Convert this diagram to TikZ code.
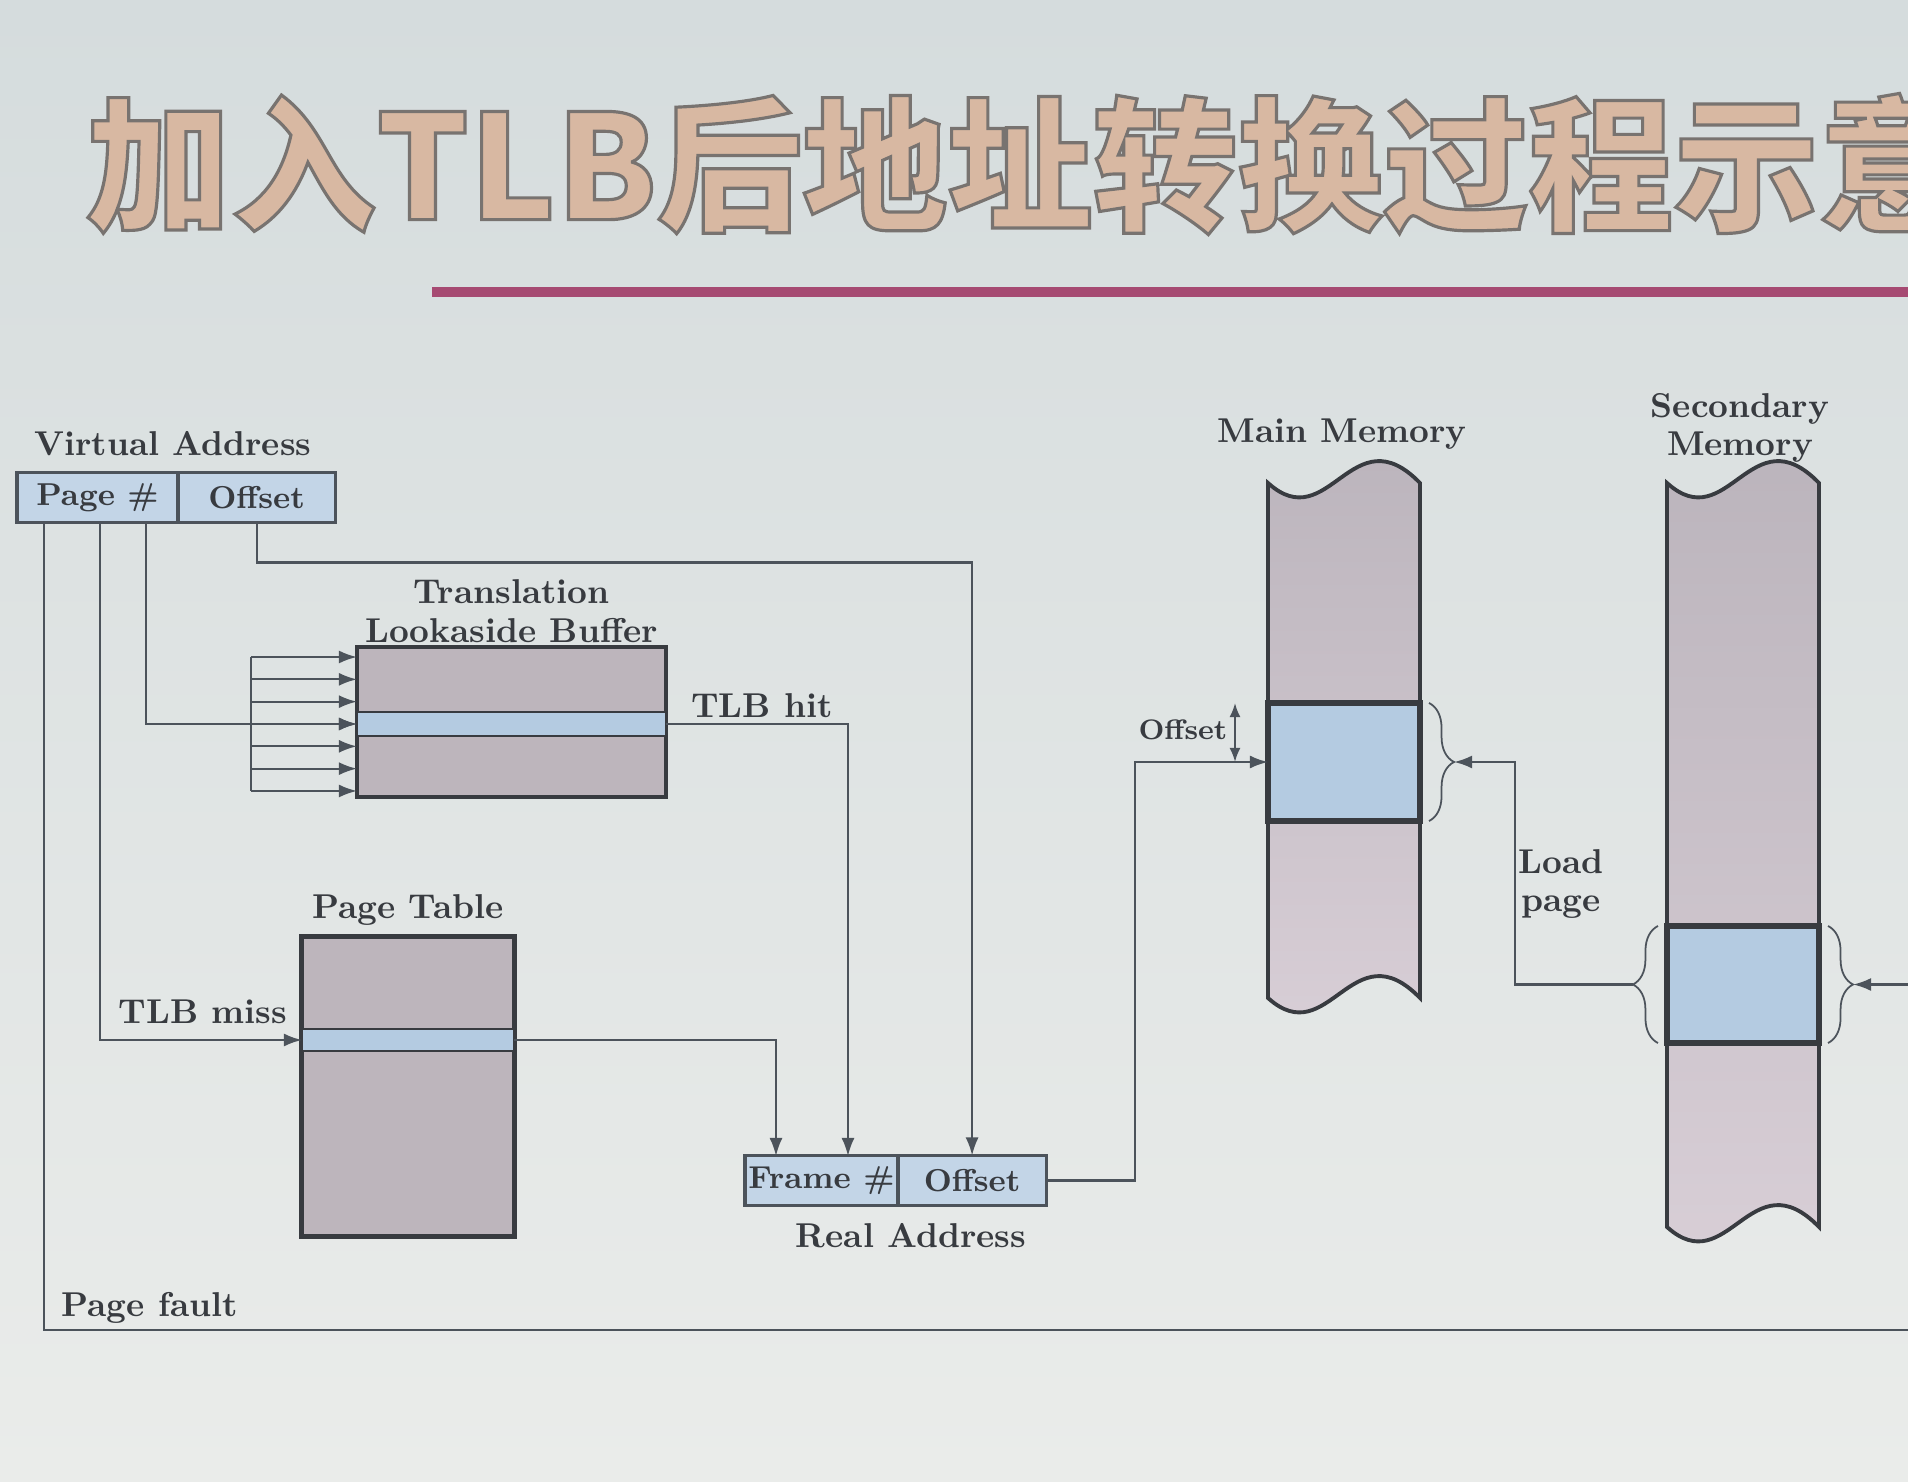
\documentclass[tikz,border=0pt]{standalone}
\usepackage{fontspec}
\newfontfamily\cjk{Noto Sans CJK SC}
\usetikzlibrary{positioning, arrows.meta, decorations.pathreplacing}
\definecolor{bgtop}{HTML}{D5DCDD}
\definecolor{bgbot}{HTML}{EAECEA}
\definecolor{titlefill}{HTML}{D8B8A2}
\definecolor{rulecol}{HTML}{A64A72}
\definecolor{ink}{HTML}{383B40}
\definecolor{wirecol}{HTML}{4C535B}
\definecolor{memtop}{HTML}{BAB3BB}
\definecolor{membot}{HTML}{D9CFD7}
\definecolor{tabfill}{HTML}{BDB5BC}
\definecolor{rowblue}{HTML}{B4CBE1}
\definecolor{addrblue}{HTML}{C3D5E7}
\tikzstyle{lbl} = [text=ink, font=\fontsize{9.8}{11}\selectfont\bfseries,
    align=center, inner sep=0pt]
\tikzstyle{addr} = [draw=wirecol, fill=addrblue, line width=0.9pt,
    minimum height=0.5cm, inner sep=0pt, outer sep=0pt, text=ink,
    font=\fontsize{9}{10}\selectfont\bfseries]
\tikzstyle{tabbox} = [draw=ink, fill=tabfill, line width=1pt,
    inner sep=0pt, outer sep=0pt]
\tikzstyle{rowbox} = [draw=ink, fill=rowblue, line width=0.8pt,
    inner sep=0pt, outer sep=0pt]
\tikzstyle{memblk} = [draw=ink, fill=rowblue, line width=1.5pt,
    inner sep=0pt, outer sep=0pt]
\tikzstyle{column} = [draw=ink, line width=1.1pt, top color=memtop,
    bottom color=membot]
\tikzstyle{wire} = [draw=wirecol, line width=0.6pt]
\tikzstyle{arr} = [wire, -{Latex[length=1.8mm, width=1.3mm]}]
\tikzstyle{curly} = [draw=wirecol, line width=0.5pt, decorate,
    decoration={brace, amplitude=2.5mm}]
\tikzstyle{titletext} = [anchor=west, inner sep=0pt, text=titlefill,
    font=\cjk\bfseries\fontsize{41.3}{42}\selectfont]
% outlined glyphs: fill and stroke
\newcommand{\outlined}[1]{\special{pdf:literal direct 2 Tr 0.9 w 0.47 0.45 0.44 RG}#1\special{pdf:literal direct 0 Tr}}

\begin{document}
\begin{tikzpicture}[x=0.01cm, y=-0.01cm]
    \useasboundingbox (0,0) rectangle (1908,1482);
    \clip (0,0) rectangle (1908,1482);
    \shade[top color=bgtop, bottom color=bgbot] (0,0) rectangle (1908,1482);

    % title
    \node[titletext] (title) at (85,164) {\outlined{加入TLB后地址转换过程示意}};
    \draw[rulecol, line width=2.8pt] (432,292) -- (1920,292);

    % virtual address
    \node[lbl] (valbl) at (173,444) {Virtual Address};
    \node[addr, minimum width=1.61cm] (pgnum) at (97.5,497.5) {Page \#};
    \node[addr, minimum width=1.57cm, right=0pt of pgnum] (vaoff) {Offset};

    % TLB
    \node[tabbox, minimum width=3.09cm, minimum height=1.5cm] (tlb) at (511.5,722) {};
    \node[rowbox, minimum width=3.09cm, minimum height=0.24cm] (tlbrow) at (511.5,724) {};
    \node[lbl, above=1pt of tlb] (tlblbl) {Translation\\Lookaside Buffer};

    % page table
    \node[tabbox, line width=1.4pt, minimum width=2.12cm, minimum height=2.99cm]
        (ptab) at (408,1086.5) {};
    \node[rowbox, minimum width=2.12cm, minimum height=0.22cm] (ptrow) at (408,1040) {};
    \node[lbl, above=3pt of ptab] (ptlbl) {Page Table};

    % real address
    \node[addr, minimum width=1.53cm] (frame) at (821.5,1180.5) {Frame \#};
    \node[addr, minimum width=1.48cm, right=0pt of frame] (raoff) {Offset};
    \node[lbl] (ralbl) at (911,1236) {Real Address};

    % main and secondary memory
    \shadedraw[column] (1268,483) .. controls (1329,538) and (1352,413) .. (1420,483)
        -- (1420,998) .. controls (1352,928) and (1329,1053) .. (1268,998) -- cycle;
    \shadedraw[column] (1667,483) .. controls (1728,538) and (1751,413) .. (1819,483)
        -- (1819,1227) .. controls (1751,1157) and (1728,1282) .. (1667,1227) -- cycle;
    \node[lbl] (mmlbl) at (1342,434) {Main Memory};
    \node[lbl] (smlbl) at (1740,428) {Secondary\\Memory};
    \node[memblk, minimum width=1.52cm, minimum height=1.18cm] (mmblk) at (1344,762) {};
    \node[memblk, minimum width=1.52cm, minimum height=1.17cm] (smblk) at (1743,984.5) {};
    \draw[curly] ([xshift=0.9mm]mmblk.north east) -- ([xshift=0.9mm]mmblk.south east);
    \draw[curly] ([xshift=-0.9mm]smblk.south west) -- ([xshift=-0.9mm]smblk.north west);
    \draw[curly] ([xshift=0.9mm]smblk.north east) -- ([xshift=0.9mm]smblk.south east);
    \coordinate (mmbr) at ([xshift=3.4mm]mmblk.east);
    \coordinate (smbl) at ([xshift=-3.4mm]smblk.west);
    \coordinate (smbr) at ([xshift=3.4mm]smblk.east);

    % page fault
    \coordinate (pfs) at (44,523);
    \coordinate (pfc) at (1960,1330);
    \draw[arr] (pfs) |- (pfc) |- (smbr);
    \node[lbl, anchor=west] (pflbl) at (61,1308) {Page fault};

    % TLB miss
    \coordinate (miss) at (100,523);
    \draw[arr] (miss) |- (ptrow.west);
    \node[lbl] (misslbl) at (203,1012) {TLB miss};

    % lookup in TLB
    \coordinate (look) at (146,523);
    \draw[arr] (look) |- (tlbrow.west);
    \foreach \i in {0,...,6} {
        \coordinate (comb\i) at (251,{657+\i*22.33});
        \draw[arr] (comb\i) -- (comb\i -| tlb.west);
    }
    \draw[wire] (comb0) -- (comb6);

    % offset
    \draw[arr] (vaoff.south) -- ++(0,40) -| (raoff.north);

    % TLB hit
    \coordinate (fin2) at (848,1156);
    \draw[arr] (tlbrow.east) -| (fin2);
    \node[lbl] (hitlbl) at (762,706) {TLB hit};

    % page table entry
    \coordinate (fin1) at (776,1156);
    \draw[arr] (ptrow.east) -| (fin1);

    % real address to main memory
    \draw[arr] (raoff.east) -- ++(89,0) |- (mmblk.west);
    \coordinate (ofa) at (1235,703);
    \coordinate (ofb) at (1235,762);
    \draw[wire, {Latex[length=1.4mm, width=1.1mm]}-{Latex[length=1.4mm, width=1.1mm]}]
        (ofa) -- (ofb);
    \node[lbl, font=\fontsize{8}{9}\selectfont\bfseries, anchor=east] (offlbl)
        at (1228,730) {Offset};

    % load page
    \draw[arr] (smbl) -- ++(-118,0) |- (mmbr);
    \node[lbl] (loadlbl) at (1561,884) {Load\\page};
\end{tikzpicture}
\end{document}
